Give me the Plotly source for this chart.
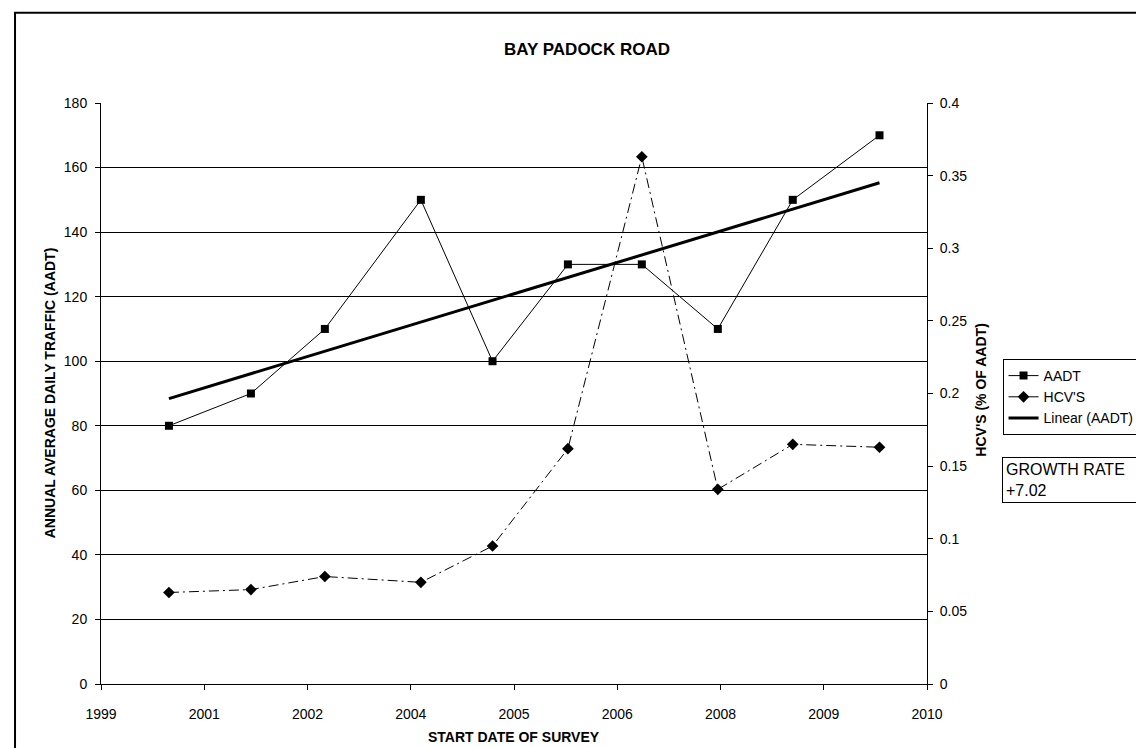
import numpy as np
import pandas as pd
import plotly.graph_objects as go

# ---------------- data ----------------
survey_dates = ["2000-11-03", "2001-12-05", "2002-11-28", "2004-03-07", "2005-02-17",
                "2006-02-17", "2007-02-10", "2008-02-13", "2009-02-10", "2010-04-06"]
aadt = [80, 90, 110, 150, 100, 130, 130, 110, 150, 170]
hcvs = [0.063, 0.065, 0.074, 0.070, 0.095, 0.162, 0.363, 0.134, 0.165, 0.163]
x_tick_labels = ["1999", "2001", "2002", "2004", "2005", "2006", "2008", "2009", "2010"]
growth_rate = "+7.02"

# ---------------- layout geometry (pixels) ----------------
W, H = 1144, 748
L, R, T, B = 93, 924, 95, 676
pw, ph = R - L, B - T


def px_x(x):
    return (x - L) / pw


def px_y(y):
    return (B - y) / ph


FONT = "Liberation Sans, Arial, sans-serif"

# axis ticks of the Excel date axis (every 500 days)
axis_start = pd.Timestamp("1999-12-10")
tick_pos = pd.date_range(axis_start, periods=len(x_tick_labels), freq="500D")
axis_end = tick_pos[-1]

# linear trend of AADT (Excel "Linear (AADT)")
d = pd.to_datetime(survey_dates)
days = (d - axis_start).days.values.astype(float)
slope, icpt = np.polyfit(days, np.array(aadt, float), 1)
trend_x = [d[0], d[-1]]
trend_y = [icpt + slope * days[0], icpt + slope * days[-1]]

fig = go.Figure()
fig.add_trace(go.Scatter(
    x=d, y=aadt, name="AADT", mode="lines+markers",
    line=dict(color="black", width=1),
    marker=dict(symbol="square", size=8, color="black"),
))
fig.add_trace(go.Scatter(
    x=d, y=hcvs, name="HCV'S", mode="lines+markers", yaxis="y2",
    line=dict(color="black", width=1, dash="10px,4px,2px,4px"),
    marker=dict(symbol="diamond", size=9, color="black"),
))
fig.add_trace(go.Scatter(
    x=trend_x, y=trend_y, name="Linear (AADT)", mode="lines",
    line=dict(color="black", width=3),
))

fig.update_layout(
    width=W, height=H,
    margin=dict(l=L, r=W - R, t=T, b=H - B, pad=0),
    paper_bgcolor="white", plot_bgcolor="white",
    font=dict(family=FONT, size=14, color="black"),
    showlegend=True,
    legend=dict(
        x=px_x(1000), y=px_y(351), xanchor="left", yanchor="top",
        bordercolor="black", borderwidth=1, bgcolor="white",
        font=dict(family=FONT, size=14, color="black"),
        tracegroupgap=0, itemwidth=30,
    ),
    xaxis=dict(
        type="date", range=[axis_start, axis_end],
        tickmode="array", tickvals=list(tick_pos), ticktext=x_tick_labels,
        showgrid=False, showline=True, linecolor="black", linewidth=1,
        ticks="outside", ticklen=5, tickcolor="black", ticklabelstandoff=12,
        tickfont=dict(size=14), zeroline=False,
    ),
    yaxis=dict(
        range=[0, 180], dtick=20, tick0=0,
        showgrid=True, gridcolor="black", gridwidth=1,
        showline=True, linecolor="black", linewidth=1,
        ticks="outside", ticklen=5, tickcolor="black", ticklabelstandoff=5,
        tickfont=dict(size=14), zeroline=False,
    ),
    yaxis2=dict(
        range=[0, 0.4], dtick=0.05, tick0=0, overlaying="y", side="right",
        showgrid=False, showline=True, linecolor="black", linewidth=1,
        ticks="outside", ticklen=5, tickcolor="black", ticklabelstandoff=4,
        tickfont=dict(size=14), zeroline=False,
    ),
)

annotations = [
    dict(text="<b>BAY PADOCK ROAD</b>", x=px_x(582), y=px_y(42), xref="paper", yref="paper",
         showarrow=False, font=dict(size=17), xanchor="center", yanchor="middle"),
    dict(text="<b>START DATE OF SURVEY</b>", x=px_x(508), y=px_y(729), xref="paper", yref="paper",
         showarrow=False, font=dict(size=14), xanchor="center", yanchor="middle"),
    dict(text="<b>ANNUAL AVERAGE DAILY TRAFFIC (AADT)</b>", x=px_x(42), y=px_y(385), xref="paper",
         yref="paper", showarrow=False, textangle=-90, font=dict(size=14),
         xanchor="center", yanchor="middle"),
    dict(text="<b>HCV'S (% OF AADT)</b>", x=px_x(978), y=px_y(382), xref="paper", yref="paper",
         showarrow=False, textangle=-90, font=dict(size=14), xanchor="center", yanchor="middle"),
    dict(text="GROWTH RATE<br>" + growth_rate, x=px_x(999), y=px_y(449), xref="paper", yref="paper",
         showarrow=False, align="left", xanchor="left", yanchor="top",
         font=dict(size=16), bordercolor="black", borderwidth=1, borderpad=3,
         bgcolor="white", width=160),
]
fig.update_layout(annotations=annotations)

# chart-area border (left and top edges visible)
fig.add_shape(type="rect", xref="paper", yref="paper",
              x0=px_x(6.5), x1=px_x(1170), y0=px_y(770), y1=px_y(4.7),
              line=dict(color="black", width=2), fillcolor="rgba(0,0,0,0)", layer="above")

fig.write_html("out.html")
